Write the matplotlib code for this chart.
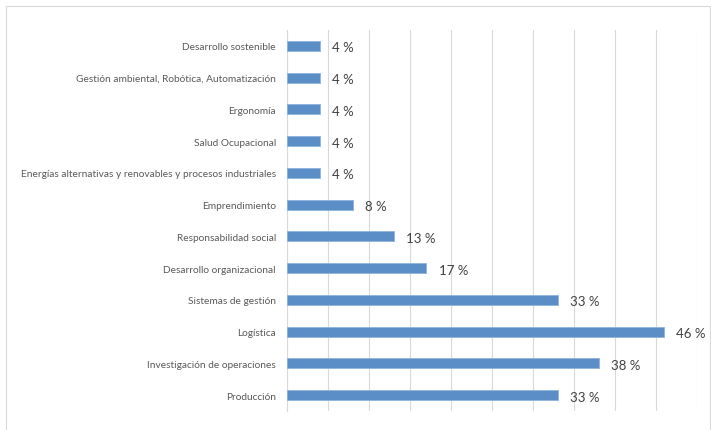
"""Horizontal bar chart of research lines (share of projects)."""

import matplotlib

matplotlib.use("Agg")
import matplotlib.pyplot as plt
from matplotlib.patches import Rectangle

# Categories listed bottom to top, as plotted on the y axis.
categories = [
    "Producción",
    "Investigación de operaciones",
    "Logística",
    "Sistemas de gestión",
    "Desarrollo organizacional",
    "Responsabilidad social",
    "Emprendimiento",
    "Energías alternativas y renovables y procesos industriales",
    "Salud Ocupacional",
    "Ergonomía",
    "Gestión ambiental, Robótica, Automatización",
    "Desarrollo sostenible",
]
percentages = [33, 38, 46, 33, 17, 13, 8, 4, 4, 4, 4, 4]

BAR_COLOR = "#5B8EC6"
TEXT_COLOR = "#595959"
GRID_COLOR = "#D9D9D9"

plt.rcParams["font.family"] = ["Lato", "DejaVu Sans"]

fig = plt.figure(figsize=(7.11, 4.31), dpi=100)
ax = fig.add_axes([287 / 711, 1 - 412 / 431, (697 - 287) / 711, (412 - 31) / 431])

y = range(len(categories))
ax.barh(y, percentages, height=0.32, color=BAR_COLOR, edgecolor="#8DB3DE",
        linewidth=0.6, zorder=3)

for yi, v in zip(y, percentages):
    ax.text(v + 1.5, yi - 0.05, f"{v} %", va="center", ha="left",
            fontsize=9.5, color="#404040")

ax.set_xlim(0, 50)
ax.set_ylim(-0.5, len(categories) - 0.5)
ax.set_xticks(range(0, 51, 5))
ax.set_xticklabels([])
ax.set_yticks(list(y))
ax.set_yticklabels(categories, fontsize=7.3, color=TEXT_COLOR)
ax.tick_params(axis="both", length=0)
ax.tick_params(axis="y", pad=8)
ax.grid(axis="x", color=GRID_COLOR, linewidth=0.8, zorder=0)
for side in ("top", "right", "bottom"):
    ax.spines[side].set_visible(False)
ax.spines["left"].set_color(GRID_COLOR)
ax.spines["left"].set_linewidth(0.8)

# chart area border
fig.patches.append(Rectangle((6 / 711, -0.1), 704 / 711, 1 - 7 / 431 + 0.1,
                             transform=fig.transFigure, fill=False,
                             edgecolor=GRID_COLOR, linewidth=0.8))

fig.savefig("out.png", dpi=100)
